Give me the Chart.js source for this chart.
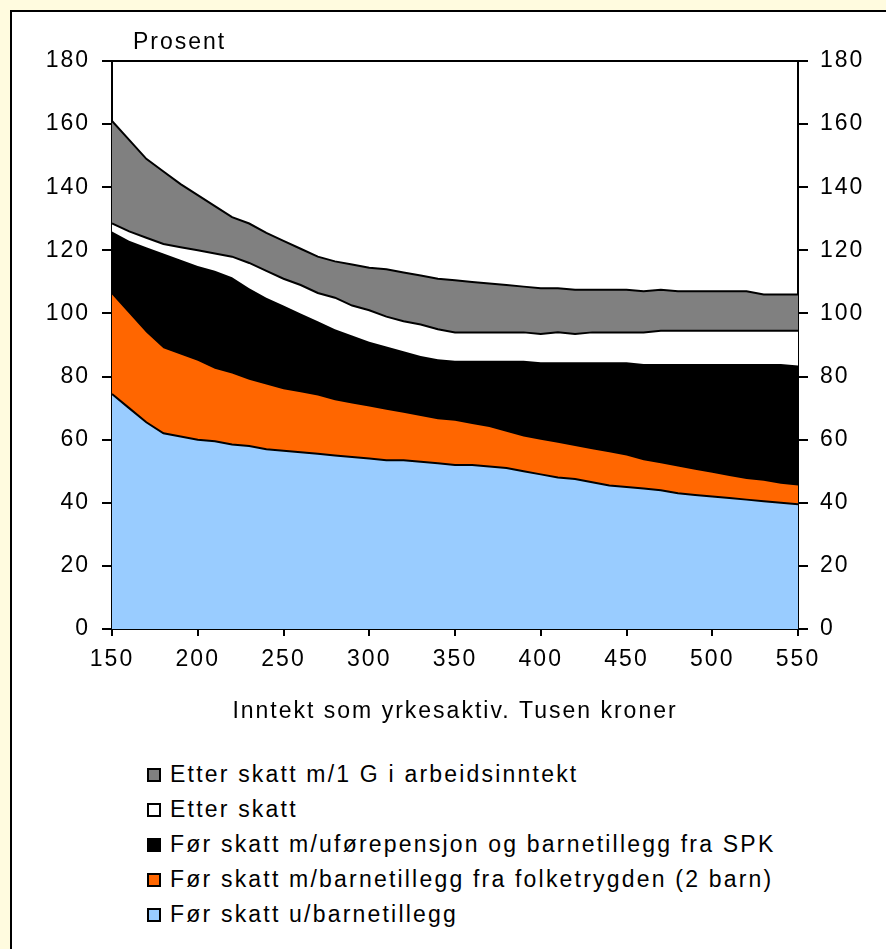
<!DOCTYPE html>
<html>
<head>
<meta charset="utf-8">
<script src="https://cdn.jsdelivr.net/npm/chart.js@4/dist/chart.umd.min.js"></script>
<style>
    body { margin: 0; background: #FFFBDF; width: 886px; height: 949px; overflow: hidden; font-family: "Liberation Sans", Arial, sans-serif; }
    #panel { position: absolute; left: 10px; top: 10px; width: 900px; height: 960px; background: #fff; border-left: 2px solid #000; border-top: 2px solid #000; }
    #myChart { position: absolute; left: 0; top: 0; }
    #unit { position: absolute; left: 133px; top: 28px; font-size: 23px; letter-spacing: 2px; color: #000; }
    #legend { position: absolute; left: 147px; top: 757px; }
    .item { height: 35px; display: flex; align-items: center; font-size: 23px; letter-spacing: 2.2px; color: #000; }
    .box { width: 10px; height: 10px; border: 2px solid #000; margin-right: 9px; }
</style>
</head>
<body>
<div id="panel"></div>
<canvas id="myChart" width="886" height="730"></canvas>
<div id="unit">Prosent</div>
<div id="legend"></div>
<script>
/* Chart data */

// Income, thousand kroner
const income = [150, 160, 170, 180, 190, 200, 210, 220, 230, 240, 250, 260, 270, 280, 290, 300, 310, 320, 330, 340,
    350, 360, 370, 380, 390, 400, 410, 420, 430, 440, 450, 460, 470, 480, 490, 500, 510, 520, 530, 540, 550];

const labels = [
    'Etter skatt m/1 G i arbeidsinntekt',
    'Etter skatt',
    'Før skatt m/uførepensjon og barnetillegg fra SPK',
    'Før skatt m/barnetillegg fra folketrygden (2 barn)',
    'Før skatt u/barnetillegg'
];

const afterTax1G = [161, 155, 149, 145, 141, 137.5, 134, 130.5, 128.5, 125.5, 123, 120.5, 118, 116.5, 115.5, 114.5, 114, 113, 112, 111,
    110.5, 110, 109.5, 109, 108.5, 108, 108, 107.5, 107.5, 107.5, 107.5, 107, 107.5, 107, 107, 107, 107, 107, 106, 106, 106];
const afterTax = [128.5, 126, 124, 122, 121, 120, 119, 118, 116, 113.5, 111, 109, 106.5, 105, 102.5, 101, 99, 97.5, 96.5, 95,
    94, 94, 94, 94, 94, 93.5, 94, 93.5, 94, 94, 94, 94, 94.5, 94.5, 94.5, 94.5, 94.5, 94.5, 94.5, 94.5, 94.5];
const beforeTaxSpk = [126, 123, 121, 119, 117, 115, 113.5, 111.5, 108, 105, 102.5, 100, 97.5, 95, 93, 91, 89.5, 88, 86.5, 85.5,
    85, 85, 85, 85, 85, 84.5, 84.5, 84.5, 84.5, 84.5, 84.5, 84, 84, 84, 84, 84, 84, 84, 84, 84, 83.5];
const beforeTaxChild = [106, 100, 94, 89, 87, 85, 82.5, 81, 79, 77.5, 76, 75, 74, 72.5, 71.5, 70.5, 69.5, 68.5, 67.5, 66.5,
    66, 65, 64, 62.5, 61, 60, 59, 58, 57, 56, 55, 53.5, 52.5, 51.5, 50.5, 49.5, 48.5, 47.5, 47, 46, 45.5];
const beforeTax = [74.5, 70, 65.5, 62, 61, 60, 59.5, 58.5, 58, 57, 56.5, 56, 55.5, 55, 54.5, 54, 53.5, 53.5, 53, 52.5,
    52, 52, 51.5, 51, 50, 49, 48, 47.5, 46.5, 45.5, 45, 44.5, 44, 43, 42.5, 42, 41.5, 41, 40.5, 40, 39.5];

const yTicks = [0, 20, 40, 60, 80, 100, 120, 140, 160, 180];
const xTicks = [150, 200, 250, 300, 350, 400, 450, 500, 550];

const series = [afterTax1G, afterTax, beforeTaxSpk, beforeTaxChild, beforeTax];
const fills = ['#808080', '#ffffff', '#000000', '#FF6600', '#99CCFF'];
const strokes = [2, 2, 0, 0, 2];

const tickFont = { family: '"Liberation Sans", Arial, sans-serif', size: 23 };

// Letter spacing like the original
const spacingPlugin = {
    id: 'spacing',
    beforeLayout(chart) { chart.ctx.letterSpacing = '2px'; },
    beforeDraw(chart) { chart.ctx.letterSpacing = '2px'; }
};

function toPoints(values) {
    return values.map((v, i) => ({ x: income[i], y: v }));
}

function drawLegend() {
    const legendElem = document.getElementById('legend');
    let html = '';
    for (let i = 0; i < labels.length; i++) {
        html += `<div class="item"><span class="box" style="background:${fills[i]}"></span>${labels[i]}</div>`;
    }
    legendElem.innerHTML = html;
}

function drawChart() {
    const ctx = document.getElementById('myChart').getContext('2d');
    // first dataset is drawn last, so the lowest area goes first
    const datasets = [];
    for (let i = series.length - 1; i >= 0; i--) {
        datasets.push({
            label: labels[i],
            data: toPoints(series[i]),
            backgroundColor: fills[i],
            borderColor: '#000',
            borderWidth: strokes[i],
            pointRadius: 0,
            tension: 0,
            fill: 'origin'
        });
    }
    const yAxis = (position, width) => ({
        type: 'linear',
        position: position,
        min: 0,
        max: 180,
        z: 1,
        afterBuildTicks: (axis) => { axis.ticks = yTicks.map(v => ({ value: v })); },
        afterFit: (axis) => { axis.width = width; },
        ticks: { color: '#000', font: tickFont, padding: 12 },
        grid: { drawOnChartArea: false, drawTicks: true, tickLength: 10, color: '#000', lineWidth: 2 },
        border: { display: true, color: '#000', width: 2 }
    });
    new Chart(ctx, {
        type: 'line',
        data: { datasets: datasets },
        plugins: [spacingPlugin],
        options: {
            responsive: false,
            animation: false,
            devicePixelRatio: 1,
            layout: { padding: { top: 61, left: 0, right: 0, bottom: 0 } },
            plugins: { legend: { display: false }, tooltip: { enabled: false } },
            scales: {
                x: {
                    type: 'linear',
                    position: 'bottom',
                    min: 150,
                    max: 550,
                    z: 1,
                    afterBuildTicks: (axis) => { axis.ticks = xTicks.map(v => ({ value: v })); },
                    afterFit: (axis) => { axis.height = 101; },
                    ticks: { color: '#000', font: tickFont, padding: 10, maxRotation: 0 },
                    grid: { drawOnChartArea: false, drawTicks: true, tickLength: 7, color: '#000', lineWidth: 2 },
                    border: { display: true, color: '#000', width: 2 },
                    title: {
                        display: true,
                        text: 'Inntekt som yrkesaktiv. Tusen kroner',
                        color: '#000',
                        font: tickFont,
                        padding: { top: 0, bottom: 5 }
                    }
                },
                xTop: {
                    type: 'linear',
                    position: 'top',
                    min: 150,
                    max: 550,
                    z: 1,
                    afterFit: (axis) => { axis.height = 0; },
                    ticks: { display: false },
                    grid: { display: false },
                    border: { display: true, color: '#000', width: 2 }
                },
                y: yAxis('left', 112),
                yRight: yAxis('right', 88)
            }
        }
    });
}

drawLegend();
drawChart();
</script>
</body>
</html>
